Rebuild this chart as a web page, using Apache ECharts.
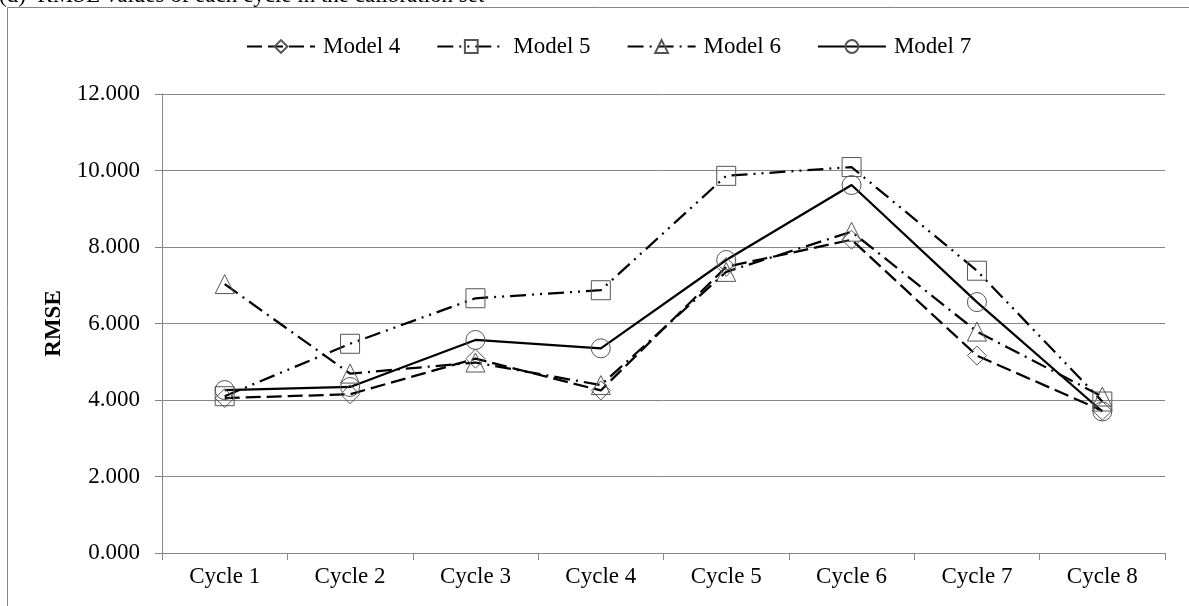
<!DOCTYPE html>
<html>
<head>
<meta charset="utf-8">
<script src="https://cdn.jsdelivr.net/npm/echarts@6/dist/echarts.min.js"></script>
<style>
html,body{margin:0;padding:0;background:#fff;}
#chart{width:1189px;height:606px;}
</style>
</head>
<body>
<div id="chart"></div>
<script>
var categories = ['Cycle 1','Cycle 2','Cycle 3','Cycle 4','Cycle 5','Cycle 6','Cycle 7','Cycle 8'];
var model4 = [4.05, 4.15, 5.08, 4.25, 7.48, 8.19, 5.16, 3.72];
var model5 = [4.10, 5.47, 6.66, 6.87, 9.86, 10.09, 7.38, 3.96];
var model6 = [7.03, 4.69, 4.98, 4.39, 7.35, 8.40, 5.79, 4.09];
var model7 = [4.26, 4.34, 5.57, 5.35, 7.66, 9.62, 6.56, 3.70];
var seriesNames = ['Model 4','Model 5','Model 6','Model 7'];
var titleText = '(d)  RMSE values of each cycle in the calibration set';
var yAxisName = 'RMSE';

var FONT = '"Liberation Serif", "Times New Roman", serif';
var GRAY = '#868686';

function mkSeries(name, data, symbol, dash) {
  return {
    name: name,
    type: 'line',
    data: data,
    symbol: symbol,
    symbolSize: 19,
    showSymbol: true,
    itemStyle: { color: 'rgba(0,0,0,0)', borderColor: '#555', borderWidth: 1 },
    lineStyle: { color: '#000', width: 2.25, type: dash },
    emphasis: { disabled: true },
    animation: false
  };
}

var chart = echarts.init(document.getElementById('chart'), null, { renderer: 'canvas' });
chart.setOption({
  backgroundColor: '#fff',
  animation: false,
  textStyle: { fontFamily: FONT },
  graphic: [
    { type: 'rect', shape: { x: 7.5, y: 7.5, width: 1300, height: 800 },
      style: { fill: 'none', stroke: GRAY, lineWidth: 1 }, silent: true, z: -1 },
    { type: 'text', left: -1, top: -16,
      style: { text: titleText, font: '23px ' + FONT, fill: '#000' }, silent: true }
  ],
  legend: {
    left: 241, top: 30,
    itemWidth: 68, itemHeight: 16, itemGap: 36,
    textStyle: { fontFamily: FONT, fontSize: 23, color: '#000', padding: [0, 0, 0, 3] },
    data: seriesNames
  },
  grid: { left: 162, right: 24, top: 94, bottom: 53, containLabel: false },
  xAxis: {
    type: 'category',
    data: categories,
    boundaryGap: true,
    axisLine: { show: true, lineStyle: { color: GRAY, width: 1 } },
    axisTick: { show: true, length: 7, alignWithLabel: false, lineStyle: { color: GRAY } },
    axisLabel: { fontFamily: FONT, fontSize: 23, color: '#000', margin: 12 },
    splitLine: { show: false }
  },
  yAxis: {
    type: 'value',
    min: 0, max: 12, interval: 2,
    name: yAxisName,
    nameLocation: 'middle',
    nameGap: 96,
    nameRotate: 90,
    nameTextStyle: { fontFamily: FONT, fontSize: 23, fontWeight: 'bold', color: '#000' },
    axisLine: { show: true, lineStyle: { color: GRAY, width: 1 } },
    axisTick: { show: true, length: 7, lineStyle: { color: GRAY } },
    axisLabel: { fontFamily: FONT, fontSize: 23, color: '#000', margin: 22,
      formatter: function (v) { return v.toFixed(3); } },
    splitLine: { show: true, lineStyle: { color: GRAY, width: 1 } }
  },
  series: [
    mkSeries(seriesNames[0], model4, 'diamond', [15, 6]),
    mkSeries(seriesNames[1], model5, 'rect', [16, 6, 2, 6, 2, 6]),
    mkSeries(seriesNames[2], model6, 'triangle', [16, 6, 2, 6]),
    mkSeries(seriesNames[3], model7, 'circle', 'solid')
  ]
});
</script>
</body>
</html>
